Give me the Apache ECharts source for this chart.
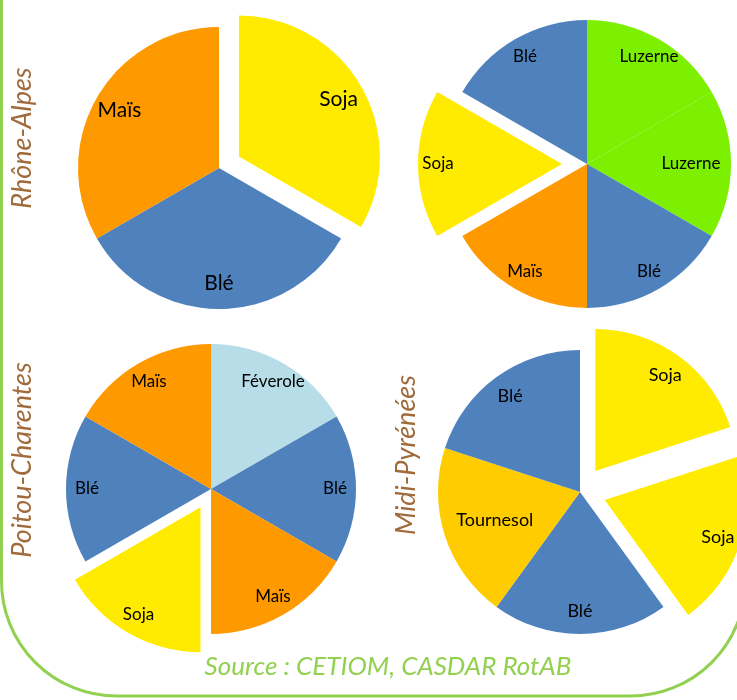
<!DOCTYPE html>
<html>
<head>
<meta charset="utf-8">
<script src="https://cdn.jsdelivr.net/npm/echarts@6/dist/echarts.min.js"></script>
<style>
  html, body { margin: 0; padding: 0; background: #ffffff; }
  #chart { width: 737px; height: 700px; }
</style>
</head>
<body>
<div id="chart"></div>
<script>
// Crop rotations by region: each pie lists the crops of the rotation,
// equal shares, with the detached slices flagged.
const rhoneCats = ['Soja', 'Blé', 'Maïs'];
const rhoneVals = [1, 1, 1];
const rhoneOut = [true, false, false];

const rhone2Cats = ['Luzerne', 'Luzerne', 'Blé', 'Maïs', 'Soja', 'Blé'];
const rhone2Vals = [1, 1, 1, 1, 1, 1];
const rhone2Out = [false, false, false, false, true, false];

const poitouCats = ['Féverole', 'Blé', 'Maïs', 'Soja', 'Blé', 'Maïs'];
const poitouVals = [1, 1, 1, 1, 1, 1];
const poitouOut = [false, false, false, true, false, false];

const midiCats = ['Soja', 'Soja', 'Blé', 'Tournesol', 'Blé'];
const midiVals = [1, 1, 1, 1, 1];
const midiOut = [true, true, false, false, false];

const regionNames = ['Rhône-Alpes', 'Poitou-Charentes', 'Midi-Pyrénées'];
const sourceText = 'Source : CETIOM, CASDAR RotAB';

// Colours per crop
const cropColors = {
  'Blé': '#4F81BD',
  'Maïs': '#FF9900',
  'Soja': '#FFEB00',
  'Luzerne': '#7CF000',
  'Féverole': '#B7DDE8',
  'Tournesol': '#FFCC00'
};

// Small label adjustments for long names sitting near the rim
const labelTweak = {
  'rhone2-1': { padding: [0, 40, 0, 0] },
  'midi-3': { padding: [0, 0, 0, 56], formatter: '{b}\n' }
};

const FONT = 'Lato, "Open Sans", sans-serif';

function pieSeries(key, cats, vals, out, center, radius, offset, labelRadius, fontSize) {
  const items = cats.map((c, i) => ({
    name: c,
    value: vals[i],
    selected: out[i],
    itemStyle: { color: cropColors[c] }
  }));
  const labelItems = cats.map((c, i) => {
    const item = {
      name: c,
      value: vals[i],
      selected: out[i]
    };
    const tweak = labelTweak[key + '-' + i];
    if (tweak) item.label = tweak;
    return item;
  });
  const common = {
    type: 'pie',
    center: center,
    startAngle: 90,
    clockwise: true,
    selectedMode: 'multiple',
    selectedOffset: offset,
    animation: false,
    emphasis: { disabled: true },
    select: { disabled: false },
    avoidLabelOverlap: false,
    labelLine: { show: false }
  };
  return [
    Object.assign({}, common, {
      name: key,
      radius: [0, radius],
      data: items,
      itemStyle: { borderWidth: 0 },
      label: { show: false }
    }),
    // ring of transparent sectors carrying the crop names
    Object.assign({}, common, {
      name: key + '-labels',
      silent: true,
      radius: [2 * labelRadius - radius, radius],
      data: labelItems,
      itemStyle: { color: 'rgba(0,0,0,0)', borderWidth: 0 },
      label: {
        show: true,
        position: 'inside',
        color: '#000000',
        fontFamily: FONT,
        fontSize: fontSize,
        formatter: '{b}'
      }
    })
  ];
}

const series = [].concat(
  pieSeries('rhone', rhoneCats, rhoneVals, rhoneOut, [219, 168], 141, 23, 112, 21),
  pieSeries('rhone2', rhone2Cats, rhone2Vals, rhone2Out, [587, 164], 144, 25, 121, 17),
  pieSeries('poitou', poitouCats, poitouVals, poitouOut, [211, 489], 145, 21, 121, 17),
  pieSeries('midi', midiCats, midiVals, midiOut, [580, 492], 142, 26, 116, 18)
);

const regionText = (name, x, y) => ({
  type: 'text',
  x: x,
  y: y,
  rotation: Math.PI / 2,
  silent: true,
  style: {
    text: name,
    fill: '#A06A3A',
    fontFamily: FONT,
    fontStyle: 'italic',
    fontSize: 27,
    align: 'center',
    verticalAlign: 'middle'
  }
});

const chart = echarts.init(document.getElementById('chart'), null, { renderer: 'canvas' });
chart.setOption({
  backgroundColor: '#ffffff',
  animation: false,
  graphic: [
    {
      type: 'rect',
      silent: true,
      z: -10,
      shape: { x: 1.5, y: -60, width: 744, height: 756, r: [0, 0, 115, 115] },
      style: { fill: 'none', stroke: '#92D050', lineWidth: 3 }
    },
    regionText(regionNames[0], 22, 138),
    regionText(regionNames[1], 22, 460),
    regionText(regionNames[2], 406, 455),
    {
      type: 'text',
      x: 388,
      y: 667,
      silent: true,
      style: {
        text: sourceText,
        fill: '#92D050',
        fontFamily: FONT,
        fontStyle: 'italic',
        fontSize: 26,
        align: 'center',
        verticalAlign: 'middle'
      }
    }
  ],
  series: series
});
</script>
</body>
</html>
